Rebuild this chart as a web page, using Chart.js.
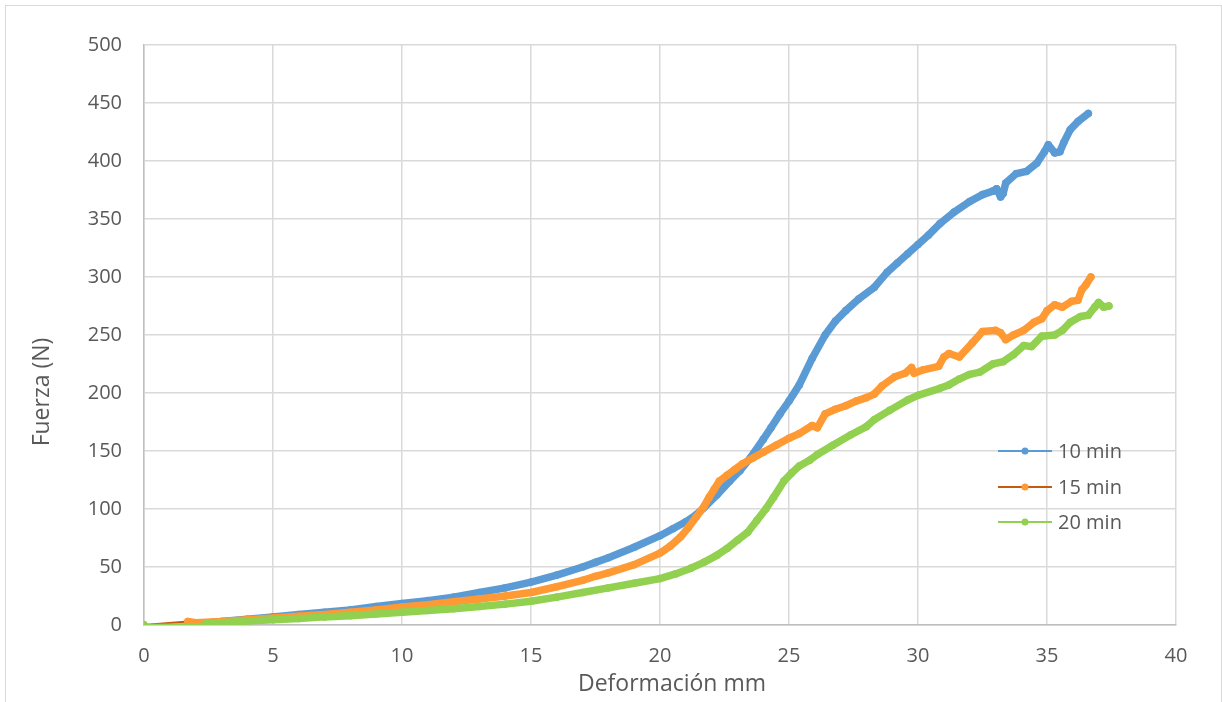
<!DOCTYPE html>
<html>
<head>
<meta charset="utf-8">
<script src="https://cdn.jsdelivr.net/npm/chart.js@4.4.1/dist/chart.umd.min.js"></script>
<style>
	body { margin: 0; background: #fff; overflow: hidden; }
	#wrap { position: relative; width: 1222px; height: 702px; }
	#frame { position: absolute; left: 5px; top: 5px; width: 1215px; height: 720px; border: 1px solid #d9d9d9; }
	#chart { position: absolute; left: 0; top: 0; }
</style>
</head>
<body>
<div id="wrap">
	<div id="frame"></div>
	<canvas id="chart" width="1222" height="702"></canvas>
</div>
<script>
"use strict"

// 10 min
var x10 = [0, 1.7, 2.5, 3, 4, 5, 6, 7, 8, 9, 10, 11, 12, 13, 14, 15, 16, 17, 17.5, 18, 19, 20, 20.5, 21, 21.4, 21.7, 22.2, 22.7, 23.1, 23.5, 24.0, 24.3, 24.65, 25.0, 25.4, 25.9, 26.4, 26.8, 27.2, 27.7, 28.3, 28.8, 29.2, 29.6, 30.0, 30.4, 30.85, 31.4, 32.0, 32.5, 32.9, 33.05, 33.2, 33.3, 33.4, 33.8, 34.2, 34.6, 34.9, 35.05, 35.3, 35.5, 35.65, 35.9, 36.2, 36.6]
var y10 = [0, 0.5, 2, 3, 5, 7, 9, 11, 13, 16, 18.5, 21, 24, 28, 32, 37, 43, 50, 54, 58, 67, 77, 83, 89, 95, 101, 112, 124, 133, 144, 160, 170, 182, 193, 207, 230, 250, 262, 271, 281, 291, 304, 312, 320, 328, 336, 346, 356, 365, 371, 374, 376, 369, 372, 381, 389, 391, 398, 408, 414, 407, 408, 416, 427, 434, 441]

// 15 min
var x15 = [0, 1.7, 2.0, 3, 4, 5, 6, 7, 8, 9, 10, 11, 12, 13, 14, 15, 16, 17, 17.5, 18, 19, 20, 20.4, 20.8, 21.1, 21.4, 21.7, 21.9, 22.1, 22.3, 22.6, 22.9, 23.2, 23.6, 24.0, 24.5, 25.0, 25.4, 25.9, 26.1, 26.4, 26.8, 27.2, 27.6, 28.0, 28.3, 28.6, 29.1, 29.5, 29.75, 29.85, 30.2, 30.8, 31.0, 31.2, 31.6, 32.1, 32.5, 33.0, 33.2, 33.4, 33.7, 34.1, 34.5, 34.8, 35.0, 35.3, 35.6, 35.95, 36.2, 36.35, 36.5, 36.7]
var y15 = [0, 3, 2, 3, 4.5, 6, 7.5, 9, 11, 13, 15.5, 17.5, 20, 22.5, 25, 28, 33, 38.5, 42, 45, 52, 62, 68, 76, 84, 93, 102, 110, 117, 124, 129, 134, 139, 144, 149, 155, 161, 165, 172, 170, 182, 186, 189, 193, 196, 199, 206, 214, 217, 222, 217, 220, 223, 231, 234, 231, 243, 253, 254, 252, 246, 250, 254, 261, 264, 271, 276, 274, 279, 280, 289, 293, 300]

// 20 min
var x20 = [0, 2.4, 3, 4, 5, 6, 7, 8, 9, 10, 11, 12, 13, 14, 15, 16, 17, 18, 19, 20, 20.6, 21.2, 21.7, 22.2, 22.6, 23.0, 23.4, 23.75, 24.1, 24.4, 24.8, 25.1, 25.4, 25.8, 26.1, 26.7, 27.4, 28.0, 28.3, 28.9, 29.6, 30.0, 30.85, 31.2, 31.6, 32.0, 32.4, 32.9, 33.3, 33.7, 34.1, 34.4, 34.8, 35.3, 35.6, 35.9, 36.3, 36.6, 36.85, 37.0, 37.2, 37.4]
var y20 = [0, 1, 2, 3.5, 4.5, 5.5, 7, 8, 9.5, 11, 12.5, 14, 16, 18, 20.5, 24, 28, 32, 36, 40, 44, 49, 54, 60, 66, 73, 80, 90, 100, 110, 124, 131, 137, 142, 147, 155, 164, 171, 177, 185, 194, 198, 204, 207, 212, 216, 218, 225, 227, 233, 241, 240, 249, 250, 254, 261, 266, 267, 274, 278, 274, 275]

var seriesNames = ["10 min", "15 min", "20 min"]
var markerColors = ["#5b9bd5", "#ff9933", "#92d050"]
var lineColors = ["#5b9bd5", "#c55a11", "#92d050"]
var xTitle = "Deformación mm"
var yTitle = "Fuerza (N)"

var gridColor = "#d9d9d9"
var textColor = "#595959"
var fontFamily = "'Open Sans', sans-serif"

function ToPoints(xs, ys) {
	return xs.map(function (x, i) {
		return { x: x, y: ys[i] }
	})
}

function MakeDataset(index, xs, ys) {
	return {
		label: seriesNames[index],
		data: ToPoints(xs, ys),
		borderColor: markerColors[index],
		backgroundColor: markerColors[index],
		borderWidth: 7.5,
		borderJoinStyle: "round",
		borderCapStyle: "round",
		pointRadius: 3.8,
		pointBorderWidth: 0,
		pointBackgroundColor: markerColors[index],
		order: 3 - index,
		segment: {
			// thin line from the origin to the first reading
			borderWidth: function (ctx) { return ctx.p0DataIndex === 0 ? 2 : 7.5 },
			borderColor: function (ctx) { return ctx.p0DataIndex === 0 ? lineColors[index] : markerColors[index] }
		}
	}
}

// legend and axis titles, placed where the spreadsheet put them
var annotations = {
	id: "annotations",
	afterDraw: function (chart) {
		const ctx = chart.ctx
		const rows = [451, 487, 522]
		ctx.save()
		chart.data.datasets.forEach(function (ds, i) {
			const y = rows[i]
			ctx.strokeStyle = lineColors[i]
			ctx.lineWidth = 2
			ctx.beginPath()
			ctx.moveTo(998, y)
			ctx.lineTo(1052, y)
			ctx.stroke()
			ctx.fillStyle = markerColors[i]
			ctx.beginPath()
			ctx.arc(1025, y, 3.5, 0, Math.PI * 2)
			ctx.fill()
			ctx.fillStyle = textColor
			ctx.font = "20px " + fontFamily
			ctx.textBaseline = "middle"
			ctx.textAlign = "left"
			ctx.fillText(ds.label, 1058, y + 1)
		})

		ctx.font = "23px " + fontFamily
		ctx.fillStyle = textColor
		ctx.textAlign = "center"
		ctx.textBaseline = "middle"
		ctx.fillText(xTitle, 672, 684)

		ctx.translate(42, 392)
		ctx.rotate(-Math.PI / 2)
		ctx.fillText(yTitle, 0, 0)
		ctx.restore()
	}
}

const context = document.getElementById("chart").getContext("2d")
const myChart = new Chart(context, {
	type: "line",
	data: {
		datasets: [
			MakeDataset(0, x10, y10),
			MakeDataset(1, x15, y15),
			MakeDataset(2, x20, y20)
		]
	},
	options: {
		responsive: false,
		animation: false,
		devicePixelRatio: 1,
		layout: {
			padding: { top: 45, right: 46, bottom: 0, left: 0 }
		},
		plugins: {
			legend: { display: false },
			tooltip: { enabled: false }
		},
		scales: {
			x: {
				type: "linear",
				min: 0,
				max: 40,
				ticks: {
					stepSize: 5,
					padding: 19,
					color: textColor,
					font: { family: fontFamily, size: 20 }
				},
				grid: { color: gridColor, lineWidth: 1.5, drawTicks: false },
				border: { color: "#bfbfbf", width: 1.5 },
				afterFit: function (axis) { axis.height = 77 }
			},
			y: {
				min: 0,
				max: 500,
				ticks: {
					stepSize: 50,
					padding: 22,
					color: textColor,
					font: { family: fontFamily, size: 20 }
				},
				grid: { color: gridColor, lineWidth: 1.5, drawTicks: false },
				border: { color: "#bfbfbf", width: 1.5 },
				afterFit: function (axis) { axis.width = 144 }
			}
		}
	},
	plugins: [annotations]
})
</script>
</body>
</html>
